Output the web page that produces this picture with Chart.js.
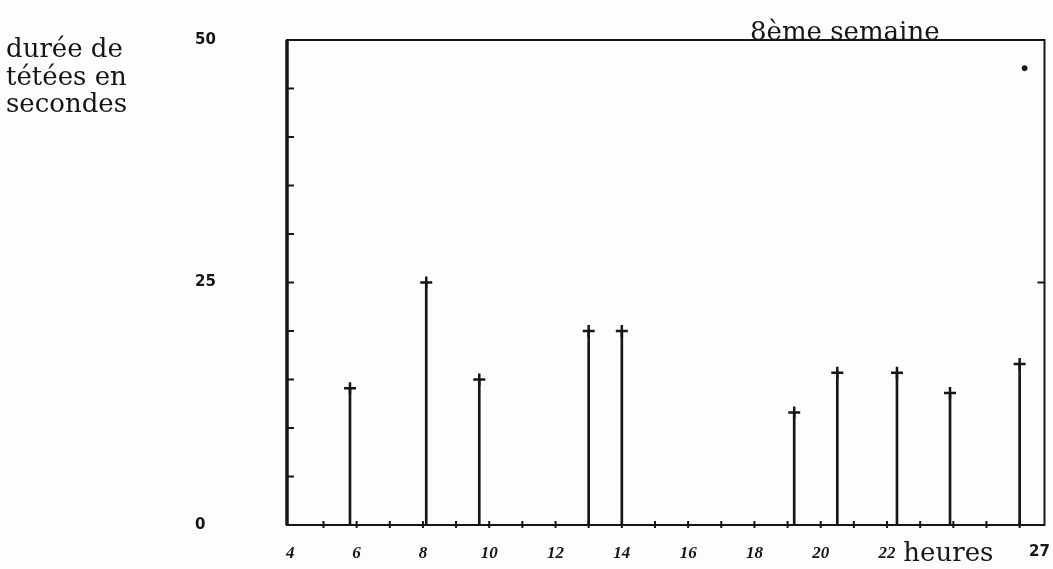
<!DOCTYPE html>
<html>
<head>
<meta charset="utf-8">
<script src="https://cdn.jsdelivr.net/npm/chart.js@4"></script>
<style>
  body { margin: 0; background: #fdfdfb; }
  #wrap { width: 1053px; height: 569px; }
</style>
</head>
<body>
<div id="wrap"><canvas id="tetees" width="1053" height="569"></canvas></div>
<script>
// heure de chaque tétée et durée en secondes
const heures = [5.8, 8.1, 9.7, 13.0, 14.0, 19.2, 20.5, 22.3, 23.9, 26.0];
const durees = [14.1, 25, 15, 20, 20, 11.6, 15.7, 15.7, 13.6, 16.6];

// point isolé en haut à droite
const pointHeure = [26.15];
const pointDuree = [47.1];

// graduations
const xLabelValues = [4, 6, 8, 10, 12, 14, 16, 18, 20, 22, 23.85, 26.6];
const xLabels = ["4", "6", "8", "10", "12", "14", "16", "18", "20", "22", "heures", "27"];
const xMarks = [5, 6, 7, 8, 9, 10, 11, 12, 13, 14, 15, 16, 17, 18, 19, 20, 21, 22, 23, 24, 25, 26];
const yMarks = [0, 5, 10, 15, 20, 25, 30, 35, 40, 45, 50];
const yLabels = ["0", "", "", "", "", "25", "", "", "", "", "50"];

const ink = "#161616";
const typewriter = "'DejaVu Serif', serif";

// Draw the frame, the inward tick marks and the free texts
const framePlugin = {
    id: "frame",
    beforeDatasetsDraw(chart) {
        const { ctx, chartArea } = chart;
        const x = chart.scales.x;
        const y = chart.scales.y;
        ctx.save();
        ctx.strokeStyle = ink;
        ctx.lineWidth = 2;
        ctx.strokeRect(chartArea.left, chartArea.top, chartArea.right - chartArea.left, chartArea.bottom - chartArea.top);
        // left axis is heavier
        ctx.lineWidth = 3.5;
        ctx.beginPath();
        ctx.moveTo(chartArea.left, chartArea.top);
        ctx.lineTo(chartArea.left, chartArea.bottom);
        ctx.stroke();
        ctx.lineWidth = 2;
        ctx.beginPath();
        yMarks.forEach(v => {
            if (v === 0 || v === 50) return;
            const py = y.getPixelForValue(v);
            ctx.moveTo(chartArea.left, py);
            ctx.lineTo(chartArea.left + 7, py);
        });
        const p25 = y.getPixelForValue(25);
        ctx.moveTo(chartArea.right, p25);
        ctx.lineTo(chartArea.right - 7, p25);
        xMarks.forEach(v => {
            const px = x.getPixelForValue(v);
            ctx.moveTo(px, chartArea.bottom - 4);
            ctx.lineTo(px, chartArea.bottom + 3);
        });
        ctx.stroke();
        ctx.restore();
    },
    afterDraw(chart) {
        const { ctx } = chart;
        ctx.save();
        ctx.fillStyle = ink;
        ctx.font = "26px " + typewriter;
        ctx.textBaseline = "alphabetic";
        ctx.fillText("8ème semaine", 750, 40);
        ctx.fillText("durée de", 6, 57);
        ctx.fillText("tétées en", 6, 85);
        ctx.fillText("secondes", 6, 112);
        ctx.restore();
    }
};

function xFont(context) {
    const label = xLabels[context.index];
    if (label === "heures") return { family: typewriter, size: 26, lineHeight: 0.9 };
    if (label === "27") return { family: "'DejaVu Sans', sans-serif", size: 15, weight: "bold" };
    return { family: "'Liberation Serif', serif", size: 17, style: "italic", weight: "bold" };
}

new Chart(document.getElementById("tetees"), {
    type: "bar",
    data: {
        datasets: [{
            type: "bar",
            data: heures.map((h, i) => ({ x: h, y: durees[i] })),
            backgroundColor: ink,
            barThickness: 2,
            grouped: false,
            order: 2
        }, {
            type: "scatter",
            data: heures.map((h, i) => ({ x: h, y: durees[i] })),
            pointStyle: "cross",
            pointRadius: 6,
            borderColor: ink,
            borderWidth: 2.5,
            order: 1
        }, {
            type: "scatter",
            data: pointHeure.map((h, i) => ({ x: h, y: pointDuree[i] })),
            pointStyle: "circle",
            pointRadius: 2.5,
            backgroundColor: ink,
            borderColor: ink,
            order: 1
        }]
    },
    options: {
        responsive: false,
        animation: false,
        layout: { padding: { left: 195, right: 8, top: 40, bottom: 0 } },
        scales: {
            x: {
                type: "linear",
                min: 3.9,
                max: 26.75,
                offset: false,
                grid: { display: false, drawTicks: false, offset: false },
                border: { display: false },
                afterBuildTicks: scale => { scale.ticks = xLabelValues.map(v => ({ value: v })); },
                afterFit: scale => {
                    scale.height = 44;
                    scale.paddingLeft = 0;
                    scale.paddingRight = 0;
                },
                ticks: {
                    autoSkip: false,
                    maxRotation: 0,
                    padding: 18,
                    color: ink,
                    font: xFont,
                    callback: (v, i) => xLabels[i]
                }
            },
            y: {
                min: 0,
                max: 50,
                grid: { display: false, drawTicks: false },
                border: { display: false },
                afterBuildTicks: scale => { scale.ticks = yMarks.map(v => ({ value: v })); },
                afterFit: scale => {
                    scale.width = 92;
                    scale.paddingTop = 0;
                    scale.paddingBottom = 0;
                },
                ticks: {
                    crossAlign: "far",
                    color: ink,
                    font: { family: "'DejaVu Sans', sans-serif", size: 15, weight: "bold" },
                    callback: (v, i) => yLabels[i]
                }
            }
        },
        plugins: {
            legend: { display: false },
            tooltip: { enabled: false },
            title: { display: false }
        }
    },
    plugins: [framePlugin]
});
</script>
</body>
</html>
